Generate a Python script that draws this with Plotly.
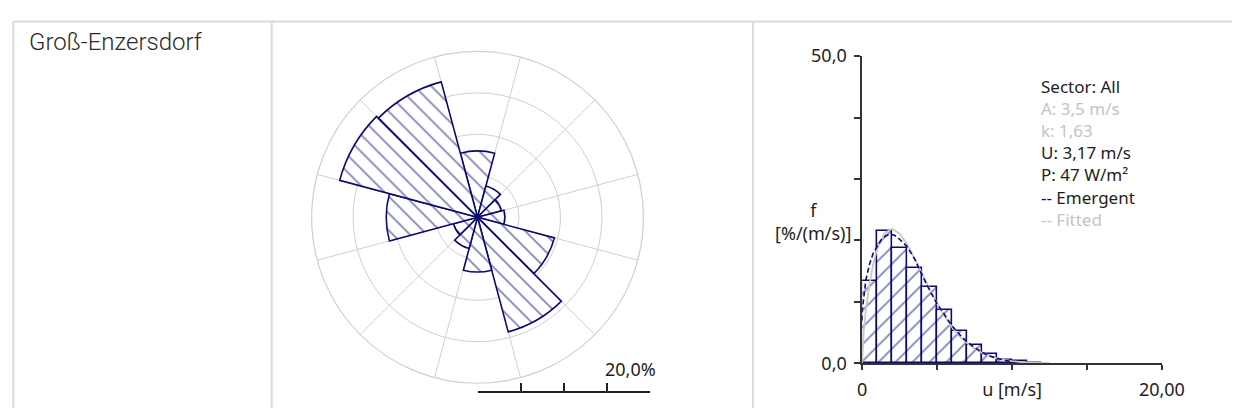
import plotly.graph_objects as go

# ---------------- data ----------------
station_name = "Groß-Enzersdorf"

# wind rose: 12 sectors, frequency in %
sector_dirs = [0, 30, 60, 90, 120, 150, 180, 210, 240, 270, 300, 330]
sector_freq = [8.0, 3.9, 3.0, 3.3, 9.6, 14.3, 6.6, 3.9, 3.0, 11.0, 17.2, 16.9]
ring_values = [5, 10, 15, 20]
spoke_angles = [15, 45, 75, 105, 135, 165, 195, 225, 255, 285, 315, 345]
scale_ticks = [0, 5, 10, 15, 20]
scale_label = "20,0%"

# speed histogram (1 m/s bins), f in %/(m/s)
bin_centers = [0.5, 1.5, 2.5, 3.5, 4.5, 5.5, 6.5, 7.5, 8.5, 9.5, 10.5, 11.5]
bin_freq = [13.4, 21.6, 18.7, 15.5, 12.4, 8.7, 5.3, 3.0, 1.5, 0.6, 0.3, 0.1]

# emergent distribution
emergent_u = [0.0, 0.0, 0.1, 0.25, 0.5, 0.75, 1.0, 1.3, 1.6, 1.9, 2.2, 2.5, 3.0, 3.5,
              4.0, 4.5, 5.0, 5.5, 6.0, 6.5, 7.0, 7.5, 8.0, 8.5, 9.0, 9.5, 10.0]
emergent_f = [7.0, 8.4, 10.5, 13.6, 16.2, 18.0, 19.0, 20.2, 20.8, 21.0, 20.8, 20.2, 19.0, 17.0,
              14.4, 11.9, 9.7, 7.8, 6.1, 4.7, 3.5, 2.6, 1.8, 1.2, 0.8, 0.5, 0.3]

# fitted Weibull curve
fitted_u = [0.0, 0.1, 0.25, 0.5, 0.75, 1.0, 1.5, 2.0, 2.5, 3.0, 3.5, 4.0, 4.5, 5.0,
            5.5, 6.0, 6.5, 7.0, 7.5, 8.0, 9.0, 10.0, 11.0, 12.0, 12.5]
fitted_f = [0.0, 4.9, 8.7, 13.1, 16.3, 18.6, 21.2, 21.9, 21.1, 19.4, 17.1, 14.6, 12.1, 9.7,
            7.7, 5.9, 4.4, 3.3, 2.4, 1.7, 0.8, 0.36, 0.15, 0.06, 0.04]

y_ticks = [0, 10, 20, 30, 40, 50]
y_ticktext = ["0,0", "", "", "", "", "50,0"]
x_ticks = [0, 5, 10, 15, 20]
x_ticktext = ["0", "", "u [m/s]", "", "20,00"]

NAVY = "#0a0a72"
DARK = "#1e1e1e"
LIGHT = "#c4c4c4"

# each stats line: list of (text, colour) segments
stats_lines = [
    [("Sector: All", DARK)],
    [("A: 3,5 m/s", LIGHT)],
    [("k: 1,63", LIGHT)],
    [("U: 3,17 m/s", DARK)],
    [("P: 47 W/m²", DARK)],
    [("--", NAVY), (" Emergent", DARK)],
    [("-- Fitted", LIGHT)],
]

# ---------------- styling ----------------
W, H = 1255, 419
GRID = "#cfcfcf"
BORDER = "#dadada"
TXT = DARK
FONT = "Noto Sans"


def px(x):
    return x / W


def py(y):
    return 1 - y / H


fig = go.Figure()

# wind rose
fig.add_trace(go.Barpolar(
    r=sector_freq, theta=sector_dirs, width=[30] * len(sector_dirs),
    marker=dict(color="white",
                line=dict(color=NAVY, width=1.6),
                pattern=dict(shape="\\", fgcolor=NAVY, bgcolor="white",
                             size=12, solidity=0.15)),
    hoverinfo="skip", subplot="polar"))

# histogram
fig.add_trace(go.Bar(
    x=bin_centers, y=bin_freq, width=1.0,
    marker=dict(color="white",
                line=dict(color=NAVY, width=1.6),
                pattern=dict(shape="/", fgcolor=NAVY, bgcolor="white",
                             size=12, solidity=0.15)),
    xaxis="x", yaxis="y", hoverinfo="skip"))

fig.add_trace(go.Scatter(
    x=fitted_u, y=fitted_f, mode="lines",
    line=dict(color="#c8c8c8", width=1.8), xaxis="x", yaxis="y", hoverinfo="skip"))
fig.add_trace(go.Scatter(
    x=emergent_u, y=emergent_f, mode="lines",
    line=dict(color=NAVY, width=1.6, dash="5px,3px"), xaxis="x", yaxis="y", hoverinfo="skip"))

# scale bar axis helper trace
fig.add_trace(go.Scatter(
    x=scale_ticks, y=[0] * len(scale_ticks), mode="markers",
    marker=dict(size=0.1, opacity=0), xaxis="x2", yaxis="y2", hoverinfo="skip"))

cx, cy, rad = 483.3, 216.7, 176.0

fig.update_layout(
    autosize=True,
    margin=dict(l=0, r=0, t=0, b=0, pad=0),
    paper_bgcolor="white", plot_bgcolor="white",
    showlegend=False,
    bargap=0,
    font=dict(family=FONT, size=18, color=TXT),
    polar=dict(
        domain=dict(x=[px(cx - rad), px(cx + rad)], y=[py(cy + rad), py(cy - rad)]),
        bgcolor="white",
        radialaxis=dict(range=[0, 20], tickvals=ring_values, showticklabels=False,
                        ticks="", showline=False, gridcolor=GRID, gridwidth=1.2),
        angularaxis=dict(rotation=90, direction="clockwise", tickvals=spoke_angles,
                         showticklabels=False, ticks="", gridcolor=GRID, gridwidth=1.2,
                         showline=True, linecolor=GRID, linewidth=1.2),
    ),
    xaxis=dict(domain=[px(876.7), px(1183.3)], range=[0, 20], anchor="y",
               tickvals=x_ticks, ticktext=x_ticktext, ticks="outside", ticklen=5,
               tickwidth=1.5, tickcolor="#333333", showline=True, linecolor="#333333",
               linewidth=1.5, showgrid=False, zeroline=False, ticklabelstandoff=4,
               tickfont=dict(family=FONT, size=18, color=TXT)),
    yaxis=dict(domain=[py(371.7), py(45.7)], range=[0, 50], anchor="x",
               tickvals=y_ticks, ticktext=y_ticktext, ticks="outside", ticklen=6,
               tickwidth=1.5, tickcolor="#333333", showline=True, linecolor="#333333",
               linewidth=1.5, showgrid=False, zeroline=False, ticklabelstandoff=4,
               tickfont=dict(family=FONT, size=18, color=TXT)),
    xaxis2=dict(domain=[px(cx), px(cx + rad)], range=[0, 20], anchor="y2",
                tickvals=scale_ticks, showticklabels=False, ticks="inside", ticklen=8,
                tickwidth=1.5, tickcolor="#222222", showline=True, linecolor="#222222",
                linewidth=1.5, showgrid=False, zeroline=False),
    yaxis2=dict(domain=[py(400.7), py(392)], range=[0, 1], anchor="x2",
                visible=False, showgrid=False, zeroline=False),
)

stats_text = "<br>".join(
    "".join("<span style='color:%s'>%s</span>" % (col, txt) for txt, col in segs)
    for segs in stats_lines)

annotations = [
    dict(text=station_name, x=px(23), y=py(31), xref="paper", yref="paper",
         xanchor="left", yanchor="middle", showarrow=False,
         font=dict(family="Roboto", size=24, color="#2a2a2a", weight=300)),
    dict(text=scale_label, x=20, xref="x2", xshift=8, y=py(378), yref="paper",
         xanchor="right", yanchor="middle", showarrow=False,
         font=dict(family=FONT, size=18, color=TXT)),
    dict(text="f<br>[%/(m/s)]", x=px(826), y=py(221.5), xref="paper", yref="paper",
         xanchor="center", yanchor="middle", showarrow=False, align="center",
         font=dict(family=FONT, size=18, color=TXT)),
    dict(text=stats_text, x=px(1058), y=py(148), xref="paper", yref="paper",
         xanchor="left", yanchor="middle", showarrow=False, align="left",
         font=dict(family=FONT, size=17, color=TXT)),
]
fig.update_layout(annotations=annotations)

shapes = [
    dict(type="line", xref="paper", yref="paper", x0=px(8), x1=1, y0=py(9), y1=py(9),
         line=dict(color=BORDER, width=2)),
    dict(type="line", xref="paper", yref="paper", x0=px(8.5), x1=px(8.5), y0=py(9), y1=0,
         line=dict(color=BORDER, width=2)),
    dict(type="line", xref="paper", yref="paper", x0=px(272.7), x1=px(272.7), y0=py(9), y1=0,
         line=dict(color=BORDER, width=2)),
    dict(type="line", xref="paper", yref="paper", x0=px(765), x1=px(765), y0=py(9), y1=0,
         line=dict(color=BORDER, width=2)),
]
fig.update_layout(shapes=shapes)

post = ("document.documentElement.style.margin='0';document.documentElement.style.padding='0';"
        "document.documentElement.style.overflow='hidden';"
        "document.body.style.margin='0';document.body.style.padding='0';"
        "document.body.style.overflow='hidden';"
        "var gd=document.getElementById('{plot_id}');"
        "Plotly.Plots.resize(gd);")
fig.write_html("out.html", default_width="100vw", default_height="100vh",
               config={"responsive": True, "displayModeBar": False},
               post_script=post)
